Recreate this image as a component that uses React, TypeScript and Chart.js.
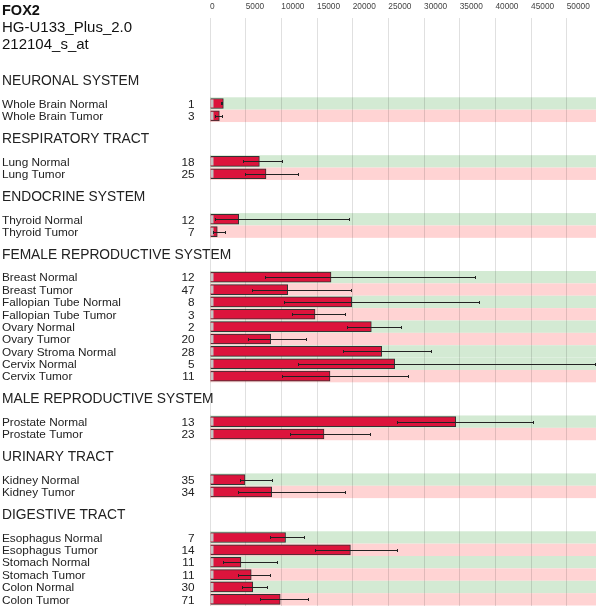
import React, { useEffect, useRef } from "react";
import { Chart, registerables } from "chart.js";

Chart.register(...registerables);

// ---------- data ----------
const TITLE = "FOX2";
const PLATFORM = "HG-U133_Plus_2.0";
const PROBE = "212104_s_at";

const SECTIONS = [
  "NEURONAL SYSTEM",
  "RESPIRATORY TRACT",
  "ENDOCRINE SYSTEM",
  "FEMALE REPRODUCTIVE SYSTEM",
  "MALE REPRODUCTIVE SYSTEM",
  "URINARY TRACT",
  "DIGESTIVE TRACT",
];

const SECTION_OF = [0, 0, 1, 1, 2, 2, 3, 3, 3, 3, 3, 3, 3, 3, 3, 4, 4, 5, 5, 6, 6, 6, 6, 6, 6];

const LABELS = [
  "Whole Brain Normal",
  "Whole Brain Tumor",
  "Lung Normal",
  "Lung Tumor",
  "Thyroid Normal",
  "Thyroid Tumor",
  "Breast Normal",
  "Breast Tumor",
  "Fallopian Tube Normal",
  "Fallopian Tube Tumor",
  "Ovary Normal",
  "Ovary Tumor",
  "Ovary Stroma Normal",
  "Cervix Normal",
  "Cervix Tumor",
  "Prostate Normal",
  "Prostate Tumor",
  "Kidney Normal",
  "Kidney Tumor",
  "Esophagus Normal",
  "Esophagus Tumor",
  "Stomach Normal",
  "Stomach Tumor",
  "Colon Normal",
  "Colon Tumor",
];

const COUNTS = [1, 3, 18, 25, 12, 7, 12, 47, 8, 3, 2, 20, 28, 5, 11, 13, 23, 35, 34, 7, 14, 11, 11, 30, 71];

const MEANS = [
  1870, 1310, 6920, 7850, 4020, 1020, 16960, 10890, 19860, 14720, 22610, 8500, 24070, 25880, 16820,
  34440, 15980, 4900, 8640, 10590, 19680, 4330, 5780, 5990, 9840,
];

const ERR_LOW = [
  1500, 700, 4670, 4900, 700, 470, 7710, 5930, 10370, 11450, 19160, 5370, 18600, 12290, 10140,
  26170, 11210, 4200, 3970, 8400, 14700, 1870, 3900, 4440, 6950,
];

const ERR_HIGH = [
  1870, 1870, 10190, 12480, 19600, 2240, 37240, 19860, 37850, 19060, 26870, 13550, 31160, 54100, 27900,
  45420, 22520, 8790, 19000, 13370, 26360, 9570, 8500, 8070, 13900,
];

const X_TICKS = [0, 5000, 10000, 15000, 20000, 25000, 30000, 35000, 40000, 45000, 50000];
const X_MAX = 54100;

// ---------- layout (row units) ----------
const SECTION_GAP = 2.68;
const HEADER_OFFSET = 1.88;
const Y_MIN = -6.91;
const Y_MAX = 40.62;

const POS = LABELS.map((_, i) => i + SECTION_OF[i] * SECTION_GAP);

const FONT = '"Liberation Sans", Arial, Helvetica, sans-serif';
const GREEN = "#d3ead3";
const PINK = "#ffd3d3";

const decor = {
  id: "decor",
  beforeDraw(chart: any) {
    const { ctx, chartArea, scales } = chart;
    const y = scales.y;
    ctx.save();
    POS.forEach((p, i) => {
      const t = y.getPixelForValue(p - 0.5);
      const b = y.getPixelForValue(p + 0.5);
      ctx.fillStyle = LABELS[i].endsWith("Normal") ? GREEN : PINK;
      ctx.fillRect(chartArea.left, t, chartArea.right - chartArea.left, b - t);
    });
    ctx.restore();
  },
  afterDatasetsDraw(chart: any) {
    const { ctx, chartArea, scales } = chart;
    const x = scales.x;
    const y = scales.y;
    const meta = chart.getDatasetMeta(0);
    ctx.save();
    // grey stub at bar start
    meta.data.forEach((bar: any) => {
      const h = bar.height;
      ctx.fillStyle = "#c4c4c4";
      ctx.fillRect(bar.base, bar.y - h / 2 + 1, 3, h - 2);
    });
    // error bars
    ctx.beginPath();
    ctx.rect(chartArea.left, chartArea.top, chartArea.right - chartArea.left + 1, chartArea.bottom - chartArea.top);
    ctx.clip();
    ctx.strokeStyle = "#222";
    ctx.lineWidth = 1;
    POS.forEach((p, i) => {
      const yp = Math.round(y.getPixelForValue(p)) + 0.5;
      const x1 = Math.round(x.getPixelForValue(ERR_LOW[i])) + 0.5;
      const x2 = Math.round(x.getPixelForValue(Math.min(ERR_HIGH[i], X_MAX))) - 0.5;
      ctx.beginPath();
      ctx.moveTo(x1, yp);
      ctx.lineTo(x2, yp);
      ctx.moveTo(x1, yp - 1.5);
      ctx.lineTo(x1, yp + 1.5);
      ctx.moveTo(x2, yp - 1.5);
      ctx.lineTo(x2, yp + 1.5);
      ctx.stroke();
    });
    ctx.restore();
  },
  afterDraw(chart: any) {
    const { ctx, scales } = chart;
    const y = scales.y;
    ctx.save();
    ctx.fillStyle = "#111";
    ctx.textAlign = "left";
    ctx.textBaseline = "alphabetic";
    ctx.font = `bold 14.5px ${FONT}`;
    ctx.fillText(TITLE, 2, 14.5);
    ctx.font = `15px ${FONT}`;
    ctx.fillText(PLATFORM, 2, 31.5);
    ctx.fillText(PROBE, 2, 48.5);

    ctx.fillStyle = "#222";
    ctx.textBaseline = "middle";
    ctx.font = `13.8px ${FONT}`;
    SECTIONS.forEach((s, si) => {
      const first = SECTION_OF.indexOf(si);
      const yp = y.getPixelForValue(POS[first] - HEADER_OFFSET);
      ctx.fillText(s, 2, yp + 1);
    });

    ctx.font = `11.8px ${FONT}`;
    POS.forEach((p, i) => {
      const yp = y.getPixelForValue(p) + 1;
      ctx.textAlign = "left";
      ctx.fillText(LABELS[i], 2, yp);
      ctx.textAlign = "right";
      ctx.fillText(String(COUNTS[i]), 194.5, yp);
    });
    ctx.restore();
  },
};

export default function App() {
  const ref = useRef<HTMLCanvasElement | null>(null);

  useEffect(() => {
    if (!ref.current) return;
    const chart = new Chart(ref.current, {
      type: "bar",
      data: {
        datasets: [
          {
            data: POS.map((p, i) => ({ x: MEANS[i], y: p })),
            backgroundColor: "#dc143c",
            borderColor: "#333",
            borderWidth: 1,
            barThickness: 10,
          } as any,
        ],
      },
      options: {
        indexAxis: "y",
        responsive: false,
        maintainAspectRatio: false,
        animation: false,
        layout: { padding: { left: 210, right: 4, top: 2, bottom: 0 } },
        scales: {
          x: {
            type: "linear",
            position: "top",
            min: 0,
            max: X_MAX,
            afterBuildTicks: (scale: any) => {
              scale.ticks = X_TICKS.map((v) => ({ value: v }));
            },
            afterFit: (scale: any) => {
              scale.height = 16;
            },
            ticks: {
              align: "start",
              padding: 6,
              color: "#444",
              font: { size: 8.3, family: FONT },
              callback: (v: any) => String(v),
              maxRotation: 0,
              autoSkip: false,
            },
            grid: { color: "rgba(0,0,0,0.12)", drawTicks: false },
            border: { display: false },
          },
          y: {
            type: "linear",
            reverse: true,
            min: Y_MIN,
            max: Y_MAX,
            offset: false,
            grace: 0,
            bounds: "data",
            display: false,
          },
        },
        plugins: {
          legend: { display: false },
          tooltip: { enabled: false },
          title: { display: false },
        },
      },
      plugins: [decor],
    } as any);
    return () => chart.destroy();
  }, []);

  return (
    <div style={{ position: "fixed", left: 0, top: 0, width: 600, height: 606, background: "#fff" }}>
      <canvas ref={ref} width={600} height={606} />
    </div>
  );
}
